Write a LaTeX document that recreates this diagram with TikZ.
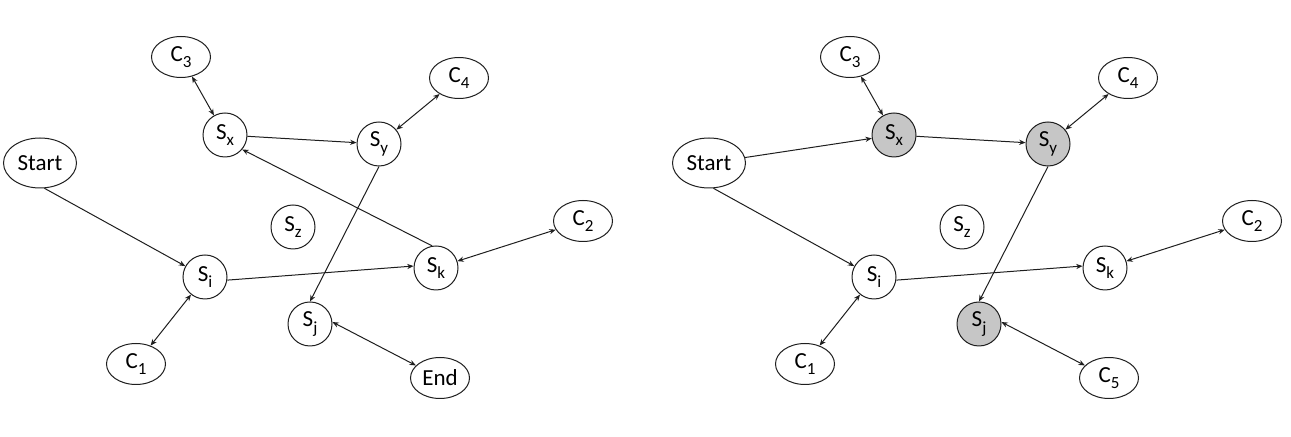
\documentclass[tikz,border=0pt]{standalone}
\usepackage{fontspec}
\setmainfont{Carlito}
\usetikzlibrary{arrows.meta,shapes.geometric}
\definecolor{ink}{HTML}{1E1E1E}
\definecolor{shade}{HTML}{C6C6C6}
\newcommand{\nm}[2]{#1\raisebox{-3.3pt}{\fontsize{8.5}{9}\selectfont #2}}
\tikzset{
  >={Stealth[length=3.2pt,width=2.6pt]},
  every picture/.style={line width=0.5pt,font=\fontsize{11.5}{13}\selectfont},
  cir/.style={circle,draw=ink,fill=white,minimum size=22pt,inner sep=0pt},
  cirg/.style={cir,fill=shade},
  ell/.style={ellipse,draw=ink,fill=white,minimum width=29.5pt,minimum height=20.5pt,inner sep=0pt},
  ends/.style={ell,minimum width=36.5pt,minimum height=25pt},
  arr/.style={->,draw=ink},
  barr/.style={<->,draw=ink},
}
\begin{document}
\begin{tikzpicture}[x=0.5pt,y=-0.5pt]
  \useasboundingbox (0,0) rectangle (1291,437);
  % left: path with End
  \node[ends] (start) at (40,163) {Start};
  \node[ell] (c3) at (181,57) {\nm{C}{3}};
  \node[ell] (c4) at (459,78) {\nm{C}{4}};
  \node[ell] (c2) at (583,221) {\nm{C}{2}};
  \node[ell] (c1) at (136,364) {\nm{C}{1}};
  \node[ell] (end) at (440,378) {End};
  \node[cir] (sx) at (225,135) {\nm{S}{x}};
  \node[cir] (sy) at (379,144) {\nm{S}{y}};
  \node[cir] (sz) at (293,227) {\nm{S}{z}};
  \node[cir] (sk) at (436,268) {\nm{S}{k}};
  \node[cir] (si) at (205,277) {\nm{S}{i}};
  \node[cir] (sj) at (310,324) {\nm{S}{j}};
  \draw[barr] (c3) -- (sx);
  \draw[arr] (sx) -- (sy);
  \draw[barr] (sy) -- (c4);
  \draw[arr] (start.-80) -- (si);
  \draw[arr] (si.-8) -- (sk.175);
  \draw[arr] (sk.100) -- (sx.-40);
  \draw[barr] (sk) -- (c2);
  \draw[arr] (sy.south) -- (sj.north);
  \draw[barr] (si) -- (c1);
  \draw[barr] (sj.5) -- (end);
  % right: shaded path
  \begin{scope}[xshift=334.5pt]
    \node[ends] (rstart) at (40,163) {Start};
    \node[ell] (rc3) at (181,57) {\nm{C}{3}};
    \node[ell] (rc4) at (459,78) {\nm{C}{4}};
    \node[ell] (rc2) at (583,221) {\nm{C}{2}};
    \node[ell] (rc1) at (136,364) {\nm{C}{1}};
    \node[ell] (rc5) at (440,378) {\nm{C}{5}};
    \node[cirg] (rsx) at (225,135) {\nm{S}{x}};
    \node[cirg] (rsy) at (379,144) {\nm{S}{y}};
    \node[cir] (rsz) at (293,227) {\nm{S}{z}};
    \node[cir] (rsk) at (436,268) {\nm{S}{k}};
    \node[cir] (rsi) at (205,277) {\nm{S}{i}};
    \node[cirg] (rsj) at (310,324) {\nm{S}{j}};
  \end{scope}
  \draw[barr] (rc3) -- (rsx);
  \draw[arr] (rstart) -- (rsx);
  \draw[arr] (rsx) -- (rsy);
  \draw[barr] (rsy) -- (rc4);
  \draw[arr] (rstart.-80) -- (rsi);
  \draw[arr] (rsi.-8) -- (rsk.175);
  \draw[barr] (rsk) -- (rc2);
  \draw[arr] (rsy.south) -- (rsj.north);
  \draw[barr] (rsi) -- (rc1);
  \draw[barr] (rsj.5) -- (rc5);
\end{tikzpicture}
\end{document}
